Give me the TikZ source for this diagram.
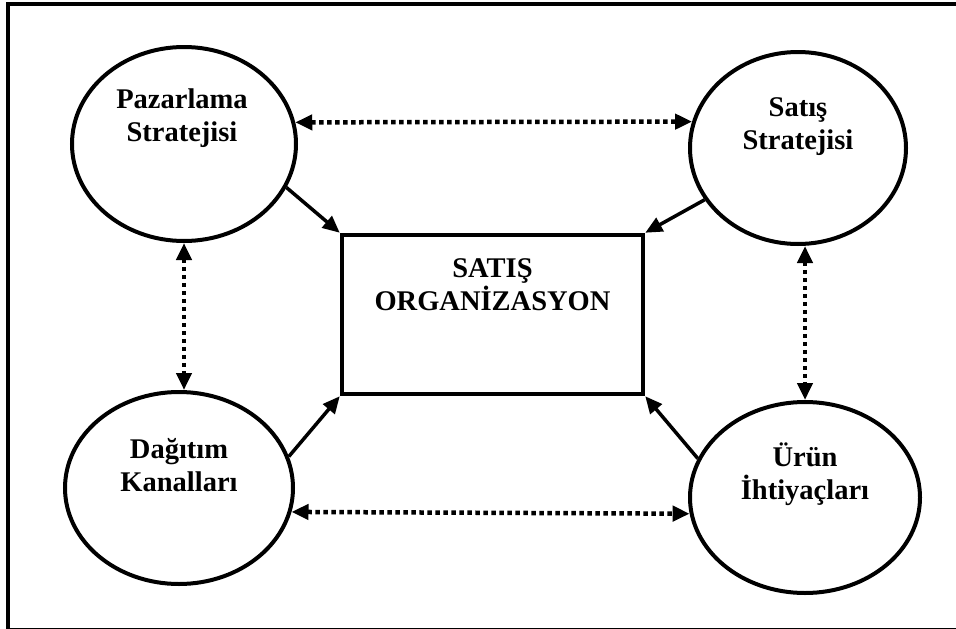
\documentclass[tikz,border=0pt]{standalone}
\usepackage{fontspec}
\setmainfont{Liberation Serif}
\usetikzlibrary{arrows.meta,shapes.geometric}

\begin{document}
\begin{tikzpicture}[x=1pt,y=-1pt,
  bubble/.style={draw, ellipse, line width=4pt, inner sep=0pt},
  txt/.style={font=\bfseries\fontsize{28.5}{33}\selectfont, align=center, inner sep=0pt},
  link/.style={line width=3.5pt, -{Triangle[length=17pt,width=15pt]}},
  dotlink/.style={line width=4.5pt, dash pattern=on 4.5pt off 3.5pt,
    {Triangle[length=17pt,width=15pt]}-{Triangle[length=17pt,width=15pt]}},
]
\useasboundingbox (0,0) rectangle (956,629);

% outer frame
\begin{scope}
  \clip (0,0) rectangle (956,629);
  \draw[line width=4pt] (8,4) rectangle (962,629.5);
\end{scope}

% the four strategy ellipses
\node[bubble, minimum width=224pt, minimum height=194pt] (pz) at (184,144) {};
\node[bubble, minimum width=216pt, minimum height=192pt] (ss) at (798,148) {};
\node[bubble, minimum width=228pt, minimum height=192pt] (dg) at (179,488) {};
\node[bubble, minimum width=230pt, minimum height=191pt] (ur) at (805,497.5) {};

% central box
\node[draw, line width=4.5pt, minimum width=301pt, minimum height=159pt, inner sep=0pt]
  (org) at (492.5,314.5) {};

% texts
\node[txt] (pzt) at (182,118) {Pazarlama\\Stratejisi};
\node[txt] (sst) at (798,127) {Satış\\Stratejisi};
\node[txt] (dgt) at (179,465) {Dağıtım\\Kanalları};
\node[txt] (urt) at (805,474) {Ürün\\İhtiyaçları};
\node[txt] (orgt) at (492.5,285) {SATIŞ\\ORGANİZASYON};

% solid arrows into the box corners
\draw[link] (pz.-23) -- (org.north west);
\draw[link] (ss.209) -- (org.north east);
\draw[link] (dg.16.6) -- (org.south west);
\draw[link] (ur.160.7) -- (org.south east);

% dotted two-way links between the ellipses
\draw[dotlink] (pz.11.4) -- (ss.166);
\draw[dotlink] (dg.-12.8) -- (ur.-172.2);
\draw[dotlink] (pz.south) -- (pz.south |- dg.north);
\draw[dotlink] (ur.north |- ss.south) -- (ur.north);
\end{tikzpicture}
\end{document}
